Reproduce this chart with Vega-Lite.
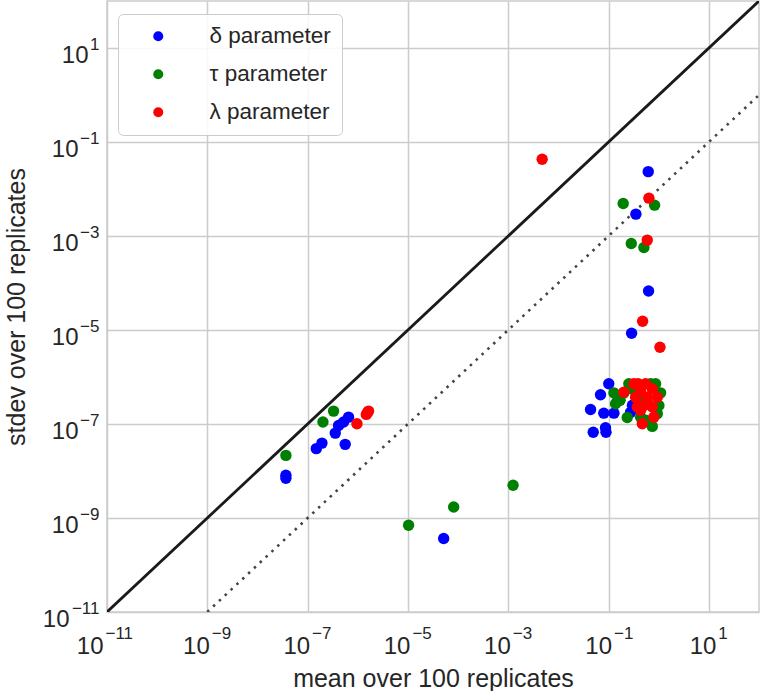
{
  "$schema": "https://vega.github.io/schema/vega-lite/v6.json",
  "autosize": "none",
  "width": 652,
  "height": 611,
  "padding": {"left": 107, "top": 1, "right": 2, "bottom": 79},
  "background": "white",
  "config": {
    "font": "Liberation Sans",
    "view": {"stroke": "#cccccc", "strokeWidth": 1.5},
    "axis": {"labelColor": "#262626", "titleColor": "#262626", "titleFontWeight": "normal", "gridColor": "#cccccc", "gridWidth": 1.5, "domain": false, "ticks": false, "titleLimit": 1000, "labelLimit": 300}
  },
  "datasets": {
    "diag": [
      {"line": "y=x", "mean": 1e-11, "stdev": 1e-11},
      {"line": "y=x", "mean": 100, "stdev": 100}
    ],
    "diag2": [
      {"line": "y=x/100", "mean": 1e-9, "stdev": 1e-11},
      {"line": "y=x/100", "mean": 100, "stdev": 1}
    ],
    "pts": [
      {"param": "δ parameter", "mean": 3.69e-8, "stdev": 8.1e-9},
      {"param": "δ parameter", "mean": 3.69e-8, "stdev": 7.0e-9},
      {"param": "δ parameter", "mean": 1.49e-7, "stdev": 2.99e-8},
      {"param": "δ parameter", "mean": 1.93e-7, "stdev": 3.92e-8},
      {"param": "δ parameter", "mean": 3.56e-7, "stdev": 6.4e-8},
      {"param": "δ parameter", "mean": 4.14e-7, "stdev": 9.3e-8},
      {"param": "δ parameter", "mean": 5.21e-7, "stdev": 1.10e-7},
      {"param": "δ parameter", "mean": 6.55e-7, "stdev": 1.40e-7},
      {"param": "δ parameter", "mean": 5.62e-7, "stdev": 3.69e-8},
      {"param": "δ parameter", "mean": 5.16e-5, "stdev": 3.67e-10},
      {"param": "δ parameter", "mean": 0.619, "stdev": 2.34e-2},
      {"param": "δ parameter", "mean": 0.351, "stdev": 2.92e-3},
      {"param": "δ parameter", "mean": 0.628, "stdev": 6.76e-5},
      {"param": "δ parameter", "mean": 0.288, "stdev": 8.51e-6},
      {"param": "δ parameter", "mean": 0.101, "stdev": 7.18e-7},
      {"param": "δ parameter", "mean": 0.0692, "stdev": 4.19e-7},
      {"param": "δ parameter", "mean": 0.0438, "stdev": 2.04e-7},
      {"param": "δ parameter", "mean": 0.0805, "stdev": 1.70e-7},
      {"param": "δ parameter", "mean": 0.128, "stdev": 1.70e-7},
      {"param": "δ parameter", "mean": 0.275, "stdev": 1.77e-7},
      {"param": "δ parameter", "mean": 0.0495, "stdev": 6.7e-8},
      {"param": "δ parameter", "mean": 0.0871, "stdev": 8.3e-8},
      {"param": "δ parameter", "mean": 0.089, "stdev": 6.7e-8},
      {"param": "δ parameter", "mean": 0.15, "stdev": 3.0e-7},
      {"param": "δ parameter", "mean": 0.3, "stdev": 2.5e-7},
      {"param": "τ parameter", "mean": 3.69e-8, "stdev": 2.15e-8},
      {"param": "τ parameter", "mean": 2.02e-7, "stdev": 1.10e-7},
      {"param": "τ parameter", "mean": 3.29e-7, "stdev": 1.88e-7},
      {"param": "τ parameter", "mean": 1.03e-5, "stdev": 7.0e-10},
      {"param": "τ parameter", "mean": 8.17e-5, "stdev": 1.72e-9},
      {"param": "τ parameter", "mean": 1.25e-3, "stdev": 4.97e-9},
      {"param": "τ parameter", "mean": 0.196, "stdev": 4.90e-3},
      {"param": "τ parameter", "mean": 0.828, "stdev": 4.53e-3},
      {"param": "τ parameter", "mean": 0.284, "stdev": 6.93e-4},
      {"param": "τ parameter", "mean": 0.507, "stdev": 5.70e-4},
      {"param": "τ parameter", "mean": 0.128, "stdev": 4.6e-7},
      {"param": "τ parameter", "mean": 0.138, "stdev": 2.70e-7},
      {"param": "τ parameter", "mean": 0.202, "stdev": 4.6e-7},
      {"param": "τ parameter", "mean": 0.236, "stdev": 1.38e-7},
      {"param": "τ parameter", "mean": 0.254, "stdev": 7.18e-7},
      {"param": "τ parameter", "mean": 0.867, "stdev": 7.18e-7},
      {"param": "τ parameter", "mean": 1.09, "stdev": 4.6e-7},
      {"param": "τ parameter", "mean": 0.938, "stdev": 1.66e-7},
      {"param": "τ parameter", "mean": 1.01, "stdev": 2.48e-7},
      {"param": "τ parameter", "mean": 0.745, "stdev": 8.9e-8},
      {"param": "τ parameter", "mean": 0.403, "stdev": 3.17e-7},
      {"param": "τ parameter", "mean": 0.17, "stdev": 3.2e-7},
      {"param": "τ parameter", "mean": 0.689, "stdev": 7.18e-7},
      {"param": "τ parameter", "mean": 0.436, "stdev": 1.40e-7},
      {"param": "τ parameter", "mean": 0.55, "stdev": 1.2e-7},
      {"param": "τ parameter", "mean": 0.3, "stdev": 5.5e-7},
      {"param": "λ parameter", "mean": 9.64e-7, "stdev": 1.01e-7},
      {"param": "λ parameter", "mean": 1.64e-6, "stdev": 1.88e-7},
      {"param": "λ parameter", "mean": 1.48e-6, "stdev": 1.60e-7},
      {"param": "λ parameter", "mean": 1.56e-6, "stdev": 1.76e-7},
      {"param": "λ parameter", "mean": 4.75e-3, "stdev": 4.30e-2},
      {"param": "λ parameter", "mean": 0.638, "stdev": 6.38e-3},
      {"param": "λ parameter", "mean": 0.591, "stdev": 8.18e-4},
      {"param": "λ parameter", "mean": 0.478, "stdev": 1.53e-5},
      {"param": "λ parameter", "mean": 1.06, "stdev": 4.30e-6},
      {"param": "λ parameter", "mean": 0.320, "stdev": 7.18e-7},
      {"param": "λ parameter", "mean": 0.548, "stdev": 7.18e-7},
      {"param": "λ parameter", "mean": 0.745, "stdev": 5.6e-7},
      {"param": "λ parameter", "mean": 0.202, "stdev": 4.75e-7},
      {"param": "λ parameter", "mean": 0.346, "stdev": 3.72e-7},
      {"param": "λ parameter", "mean": 0.591, "stdev": 3.72e-7},
      {"param": "λ parameter", "mean": 0.938, "stdev": 3.72e-7},
      {"param": "λ parameter", "mean": 0.507, "stdev": 2.48e-7},
      {"param": "λ parameter", "mean": 0.745, "stdev": 2.3e-7},
      {"param": "λ parameter", "mean": 0.436, "stdev": 1.95e-7},
      {"param": "λ parameter", "mean": 0.802, "stdev": 1.40e-7},
      {"param": "λ parameter", "mean": 0.471, "stdev": 1.01e-7},
      {"param": "λ parameter", "mean": 0.39, "stdev": 7.18e-7},
      {"param": "λ parameter", "mean": 0.436, "stdev": 5.0e-7},
      {"param": "λ parameter", "mean": 0.62, "stdev": 2.7e-7},
      {"param": "λ parameter", "mean": 0.374, "stdev": 2.3e-7}
    ]
  },
  "resolve": {"axis": {"x": "independent", "y": "independent"}},
  "layer": [
    {
      "encoding": {
        "x": {
          "field": "mean", "type": "quantitative",
          "scale": {"type": "log", "domain": [1e-11, 100], "nice": false},
          "axis": {
            "orient": "bottom",
            "title": "mean over 100 replicates",
            "values": [1e-11, 1e-9, 1e-7, 1e-5, 1e-3, 1e-1, 10],
            "labelExpr": "'10'",
            "labelFontSize": 24, "labelPadding": 22, "labelAlign": "right", "labelFlush": false,
            "labelOffset": {"condition": [{"test": "datum.value < 1e-10", "value": -4}, {"test": "datum.value > 1", "value": 7}, {"test": "datum.value > 0.01", "value": 3}], "value": 2},
            "titleFontSize": 25, "titleBaseline": "alphabetic", "titleY": 74
          }
        },
        "y": {
          "field": "stdev", "type": "quantitative",
          "scale": {"type": "log", "domain": [1e-11, 100], "nice": false},
          "axis": {
            "orient": "left",
            "title": "stdev over 100 replicates",
            "values": [1e-11, 1e-9, 1e-7, 1e-5, 1e-3, 1e-1, 10],
            "labelExpr": "'10'",
            "labelFontSize": 24, "labelAlign": "right", "labelBaseline": "middle", "labelFlush": false, "labelOffset": 7,
            "labelPadding": {"condition": [{"test": "datum.value < 1e-10", "value": 38}, {"test": "datum.value > 1", "value": 19}], "value": 29},
            "titleFontSize": 25, "titleBaseline": "alphabetic", "titleX": -83
          }
        }
      },
      "layer": [
        {
          "data": {"name": "diag"},
          "mark": {"type": "line", "color": "#1a1a1a", "strokeWidth": 2.8, "clip": true},
          "encoding": {}
        },
        {
          "data": {"name": "diag2"},
          "mark": {"type": "line", "color": "#444444", "strokeWidth": 2.6, "strokeDash": [2.5, 5.5], "clip": true},
          "encoding": {}
        },
        {
          "data": {"name": "pts"},
          "mark": {"type": "circle", "size": 130, "opacity": 1, "clip": true},
          "encoding": {
            "color": {
              "field": "param", "type": "nominal",
              "scale": {"domain": ["δ parameter", "τ parameter", "λ parameter"], "range": ["#0000ff", "#008000", "#ff0000"]},
              "legend": {
                "title": null, "orient": "none", "legendX": 11, "legendY": 13,
                "labelFontSize": 22.5, "labelColor": "#262626", "symbolSize": 100, "symbolType": "circle",
                "labelOffset": 40, "symbolOffset": 18, "rowPadding": 15, "padding": 11,
                "fillColor": "rgba(255,255,255,0.85)", "strokeColor": "#cccccc", "cornerRadius": 5, "labelLimit": 300
              }
            }
          }
        }
      ]
    },
    {
      "data": {"name": "diag"},
      "mark": {"type": "point", "opacity": 0},
      "encoding": {
        "x": {
          "field": "mean", "type": "quantitative",
          "axis": {
            "orient": "bottom", "title": null, "grid": false,
            "values": [1e-11, 1e-9, 1e-7, 1e-5, 1e-3, 1e-1, 10],
            "labelExpr": "datum.value < 1e-10 ? '−11' : datum.value < 1e-8 ? '−9' : datum.value < 1e-6 ? '−7' : datum.value < 1e-4 ? '−5' : datum.value < 1e-2 ? '−3' : datum.value < 1 ? '−1' : '1'",
            "labelFontSize": 17, "labelPadding": 13, "labelAlign": "left", "labelFlush": false,
            "labelOffset": {"condition": [{"test": "datum.value < 1e-10", "value": -2}, {"test": "datum.value > 1", "value": 9}, {"test": "datum.value > 0.01", "value": 5}], "value": 4}
          }
        },
        "y": {
          "field": "stdev", "type": "quantitative",
          "axis": {
            "orient": "left", "title": null, "grid": false,
            "values": [1e-11, 1e-9, 1e-7, 1e-5, 1e-3, 1e-1, 10],
            "labelExpr": "datum.value < 1e-10 ? '−11' : datum.value < 1e-8 ? '−9' : datum.value < 1e-6 ? '−7' : datum.value < 1e-4 ? '−5' : datum.value < 1e-2 ? '−3' : datum.value < 1 ? '−1' : '1'",
            "labelFontSize": 17, "labelPadding": 8, "labelAlign": "right", "labelBaseline": "middle", "labelFlush": false, "labelOffset": -4
          }
        }
      }
    }
  ]
}
